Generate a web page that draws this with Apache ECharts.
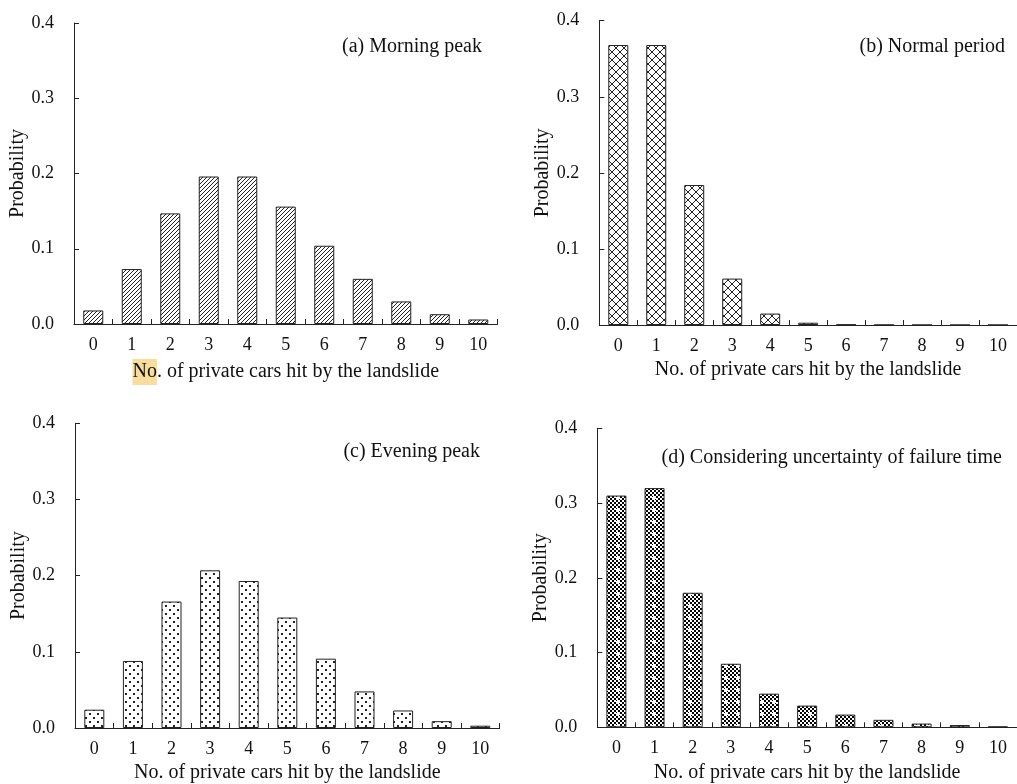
<!DOCTYPE html>
<html>
<head>
<meta charset="utf-8">
<script src="https://cdn.jsdelivr.net/npm/echarts@6/dist/echarts.min.js"></script>
<style>
  html, body { margin: 0; background: #fff; }
  #chart { width: 1017px; height: 784px; }
</style>
</head>
<body>
<div id="chart"></div>
<script>
const categories = ["0", "1", "2", "3", "4", "5", "6", "7", "8", "9", "10"];
const morningPeak = [0.018, 0.073, 0.147, 0.196, 0.196, 0.156, 0.104, 0.06, 0.03, 0.013, 0.006];
const normalPeriod = [0.368, 0.368, 0.184, 0.061, 0.015, 0.003, 0.0005, 0.0001, 0, 0, 0];
const eveningPeak = [0.024, 0.088, 0.166, 0.207, 0.193, 0.145, 0.091, 0.048, 0.023, 0.009, 0.003];
const uncertainFailure = [0.31, 0.32, 0.18, 0.085, 0.045, 0.029, 0.017, 0.01, 0.005, 0.003, 0.001];
const panelTitles = ["(a) Morning peak", "(b) Normal period", "(c) Evening peak", "(d) Considering uncertainty of failure time"];
const xTitle = "No. of private cars hit by the landslide";
const yTitle = "Probability";

const font = '"Liberation Serif", "Times New Roman", serif';
const ink = "#111";

// small canvas tiles used as bar fills
function tile(size, draw) {
  const c = document.createElement("canvas");
  c.width = c.height = size;
  const ctx = c.getContext("2d");
  ctx.fillStyle = "#fff";
  ctx.fillRect(0, 0, size, size);
  ctx.fillStyle = "#222";
  draw(ctx, size);
  return { image: c, repeat: "repeat" };
}

const hatch = tile(4, (ctx, n) => {
  for (let i = 0; i < n; i++) ctx.fillRect(i, n - 1 - i, 1, 1);
});
const cross = tile(8, (ctx, n) => {
  for (let i = 0; i < n; i++) {
    ctx.fillRect(i, i, 1, 1);
    ctx.fillRect(i, n - 1 - i, 1, 1);
  }
});
const dots = tile(8, (ctx) => {
  ctx.fillRect(1, 1, 2, 2);
  ctx.fillRect(5, 5, 2, 2);
});
const checker = tile(12, (ctx, n) => {
  ctx.fillStyle = "#000";
  for (let y = 0; y < n; y += 2)
    for (let x = 0; x < n; x += 2)
      if ((x / 2 + y / 2) % 2 === 0) ctx.fillRect(x, y, 2, 2);
  ctx.fillStyle = "#fff";
  ctx.fillRect(4, 5, 4, 2);
  ctx.fillRect(5, 4, 2, 4);
});

const panels = [
  { data: morningPeak, fill: hatch, grid: { left: 74, top: 23, width: 423.5, height: 301 }, label: [482, 47], highlight: true },
  { data: normalPeriod, fill: cross, grid: { left: 599.3, top: 20.7, width: 422.4, height: 304.3 }, label: [1005, 47] },
  { data: eveningPeak, fill: dots, grid: { left: 75, top: 423.3, width: 424.6, height: 306 }, label: [480, 452] },
  { data: uncertainFailure, fill: checker, grid: { left: 597.3, top: 428.3, width: 422.4, height: 299 }, label: [1002, 458] },
];

const axisLine = { show: true, lineStyle: { color: "#222", width: 1 } };
const axisTick = { show: true, inside: true, length: 5, lineStyle: { color: "#222" } };
const textBase = { fontFamily: font, color: ink };

const chart = echarts.init(document.getElementById("chart"), null, { renderer: "canvas" });

chart.setOption({
  backgroundColor: "#fff",
  animation: false,
  grid: panels.map((p) => ({ ...p.grid, containLabel: false })),
  xAxis: panels.map((p, i) => ({
    type: "category",
    gridIndex: i,
    data: categories,
    axisLine,
    axisTick,
    axisLabel: { ...textBase, fontSize: 18, margin: 12 },
    name: p.highlight ? "{hl|No}. of private cars hit by the landslide" : xTitle,
    nameLocation: "middle",
    nameGap: 35,
    nameTextStyle: {
      ...textBase,
      fontSize: 20,
      rich: { hl: { ...textBase, fontSize: 20, backgroundColor: "#f8dd9c", padding: [3, 0, 3, 0] } },
    },
  })),
  yAxis: panels.map((p, i) => ({
    type: "value",
    gridIndex: i,
    min: 0,
    max: 0.4,
    interval: 0.1,
    axisLine,
    axisTick,
    splitLine: { show: false },
    axisLabel: { ...textBase, fontSize: 18, margin: 20, formatter: (v) => v.toFixed(1) },
    name: yTitle,
    nameLocation: "middle",
    nameRotate: 90,
    nameGap: 43,
    nameTextStyle: { ...textBase, fontSize: 20 },
  })),
  series: panels.map((p, i) => ({
    type: "bar",
    xAxisIndex: i,
    yAxisIndex: i,
    data: p.data,
    barWidth: 20,
    silent: true,
    itemStyle: { color: p.fill, borderColor: "#222", borderWidth: 1 },
  })),
  graphic: panels.map((p, i) => ({
    type: "text",
    x: p.label[0],
    y: p.label[1],
    silent: true,
    style: {
      text: panelTitles[i],
      font: `20px ${font}`,
      fill: ink,
      align: "right",
      verticalAlign: "middle",
    },
  })),
});
</script>
</body>
</html>
